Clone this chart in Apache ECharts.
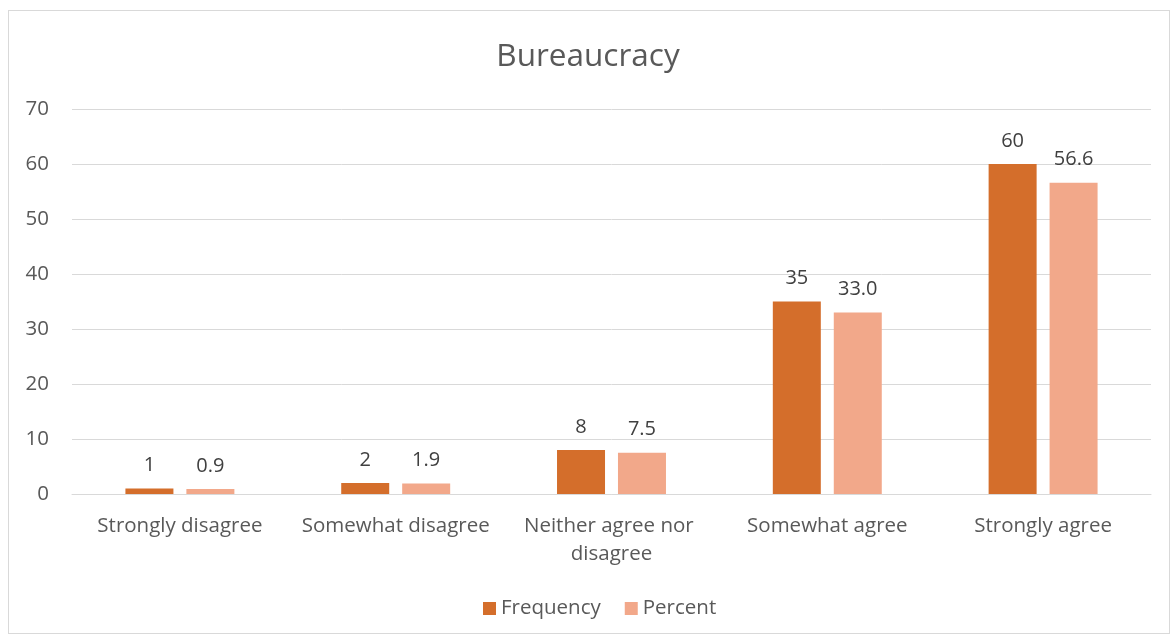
<!DOCTYPE html>
<html>
<head>
<meta charset="utf-8">
<script src="https://cdn.jsdelivr.net/npm/echarts@6/dist/echarts.min.js"></script>
<style>
  html, body { margin: 0; padding: 0; background: #fff; }
  #frame { position: absolute; left: 8px; top: 10px; width: 1162px; height: 624px; border: 1px solid #d9d9d9; box-sizing: border-box; }
  #chart { position: absolute; left: 0; top: 0; width: 1176px; height: 639px; }
</style>
</head>
<body>
<div id="frame"></div>
<div id="chart"></div>
<script>
// 数据
const categories = ['Strongly disagree', 'Somewhat disagree', 'Neither agree nor disagree', 'Somewhat agree', 'Strongly agree'];
const frequency = [1, 2, 8, 35, 60];
const percent = [0.9, 1.9, 7.5, 33.0, 56.6];
const yTicks = { min: 0, max: 70, interval: 10 };

const chart = echarts.init(document.getElementById('chart'));
const font = '"Open Sans", "Noto Sans", sans-serif';
const labelStyle = {
    show: true,
    position: 'top',
    distance: 13,
    color: '#404040',
    fontSize: 20,
    fontFamily: font
};

chart.setOption({
    animation: false,
    title: {
        text: 'Bureaucracy',
        left: 'center',
        top: 36,
        textStyle: { color: '#595959', fontSize: 31.5, fontWeight: 'normal', fontFamily: font }
    },
    legend: {
        bottom: 15,
        left: 478,
        itemWidth: 13,
        itemHeight: 13,
        itemGap: 24,
        icon: 'rect',
        textStyle: { color: '#595959', fontSize: 20.5, fontFamily: font },
        data: ['Frequency', 'Percent']
    },
    grid: { left: 72, right: 25, top: 109, bottom: 145 },
    xAxis: {
        type: 'category',
        data: categories,
        axisLine: { lineStyle: { color: '#d9d9d9' } },
        axisTick: { show: false },
        axisLabel: {
            color: '#595959',
            fontSize: 20.5,
            fontFamily: font,
            margin: 18,
            width: 200,
            overflow: 'break',
            lineHeight: 28,
            interval: 0
        }
    },
    yAxis: {
        type: 'value',
        min: yTicks.min,
        max: yTicks.max,
        interval: yTicks.interval,
        axisLine: { show: false },
        axisTick: { show: false },
        splitLine: { lineStyle: { color: '#d9d9d9', width: 1 } },
        axisLabel: { color: '#595959', fontSize: 20.5, fontFamily: font, margin: 23 }
    },
    series: [
        {
            name: 'Frequency',
            type: 'bar',
            data: frequency,
            barWidth: 48,
            barGap: '27%',
            itemStyle: { color: '#D46E2B' },
            label: labelStyle
        },
        {
            name: 'Percent',
            type: 'bar',
            data: percent,
            barWidth: 48,
            itemStyle: { color: '#F2A88A' },
            label: Object.assign({}, labelStyle, {
                formatter: p => p.value.toFixed(1)
            })
        }
    ]
});
</script>
</body>
</html>
